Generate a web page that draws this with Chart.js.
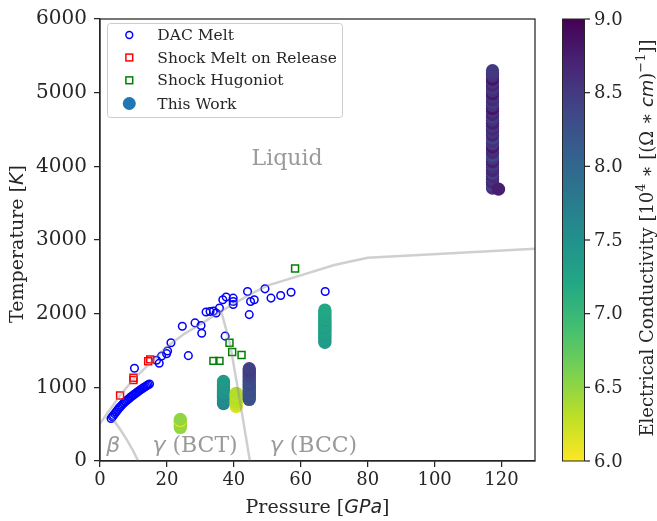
<!DOCTYPE html>
<html><head><meta charset="utf-8">
<script src="https://cdn.jsdelivr.net/npm/chart.js@4.4.1/dist/chart.umd.min.js"></script>
<style>html,body{margin:0;padding:0;background:#fff;}#wrap{width:657px;height:521px;position:relative;}</style>
</head><body><div id="wrap"><canvas id="c" width="657" height="521"></canvas></div>
<script>
// ---------- data ----------
const dacP = [3.3,3.7,4.0,4.4,4.8,5.2,5.6,6.0,6.4,6.8,7.2,7.6,8.0,8.4,8.8,9.2,9.6,10.0,10.4,10.8,11.2,11.6,12.0,12.4,12.8,13.2,13.6,14.0,14.4,14.8,
  10.3,16.9,17.7,18.4,19.9,20.2,21.2,24.6,26.4,28.4,30.2,30.4,31.7,32.9,33.9,34.7,35.7,36.7,37.7,37.4,39.8,39.8,39.8,44.1,44.6,45.0,46.1,49.3,51.1,54.0,57.1,67.3];
const dacT = [578,600,618,642,665,690,712,732,752,772,790,806,822,838,853,868,882,896,910,924,937,950,963,976,988,1000,1012,1023,1034,1044,
  1260,1368,1327,1426,1457,1493,1605,1830,1430,1875,1839,1735,2022,2030,2035,2009,2076,2189,2225,1695,2211,2166,2125,2300,1987,2166,2189,2337,2211,2247,2291,2300];
const releaseP = [6.0,10.0,10.0,14.4,15.0];
const releaseT = [888,1100,1130,1355,1380];
const hugoniotP = [58.3,33.9,35.7,38.7,39.5,42.3];
const hugoniotT = [2614,1359,1359,1605,1480,1440];

const workP = [
  24.0,24.0,24.0,24.0,24.0,24.0,24.0,
  36.9,36.9,36.9,36.9,36.9,36.9,36.9,36.9,36.9,36.9,36.9,36.9,36.9,36.9,36.9,36.9,
  40.7,40.7,40.7,40.7,40.7,40.7,40.7,40.7,40.7,40.7,
  44.6,44.6,44.6,44.6,44.6,44.6,44.6,44.6,44.6,44.6,44.6,44.6,44.6,44.6,44.6,44.6,44.6,44.6,44.6,44.6,44.6,44.6,
  67.2,67.2,67.2,67.2,67.2,67.2,67.2,67.2,67.2,67.2,67.2,67.2,67.2,67.2,67.2,67.2,67.2,67.2,67.2,67.2,67.2,67.2,67.2,
  117.3,117.3,117.3,117.3,117.3,117.3,117.3,117.3,117.3,117.3,117.3,117.3,117.3,117.3,117.3,117.3,117.3,117.3,117.3,117.3,
  117.3,117.3,117.3,117.3,117.3,117.3,117.3,117.3,117.3,117.3,117.3,117.3,117.3,117.3,117.3,117.3,117.3,117.3,117.3,117.3,117.3,
  119.1];
const workT = [
  455,475,495,515,535,550,565,
  780,800,820,840,860,880,900,920,940,960,980,1000,1020,1040,1060,1080,
  740,760,780,800,820,840,860,880,900,920,
  835,855,875,895,915,935,955,975,995,1015,1035,1055,1075,1095,1115,1135,1155,1175,1195,1215,1235,1255,
  1610,1630,1650,1670,1690,1710,1730,1750,1770,1790,1810,1830,1850,1870,1890,1910,1930,1950,1970,1990,2010,2030,2050,
  3705,3745,3785,3825,3865,3905,3945,3985,4025,4065,4105,4145,4185,4225,4265,4305,4345,4385,4425,4465,
  4505,4545,4585,4625,4665,4705,4745,4785,4825,4865,4905,4945,4985,5025,5065,5105,5145,5185,5225,5265,5300,
  3690];
const workSigma = [
  6.5,6.5,6.45,6.5,6.45,6.1,6.5,
  7.6,7.65,7.55,7.6,7.5,7.6,7.55,7.5,7.45,7.5,7.45,7.4,7.45,7.4,7.45,7.4,
  6.15,6.2,6.25,6.3,6.3,6.3,6.35,6.3,6.3,6.35,
  8.25,8.2,8.3,8.25,8.2,8.3,8.25,8.3,8.2,8.25,8.3,8.35,8.3,8.25,8.35,8.3,8.4,8.35,8.45,8.4,8.5,8.45,
  7.4,7.35,7.4,7.3,7.35,7.4,7.3,7.35,7.25,7.3,7.35,7.3,7.25,7.3,7.25,7.35,7.25,7.2,7.3,7.25,7.2,7.25,7.2,
  8.6,8.4,8.7,8.55,8.65,8.45,8.7,8.6,8.5,8.75,8.55,8.35,8.65,8.6,8.8,8.5,8.6,8.4,8.7,8.55,
  8.65,8.5,8.75,8.6,8.45,8.7,8.55,8.85,8.6,8.5,8.65,8.55,8.8,8.6,8.5,8.7,8.55,8.85,8.6,8.55,8.5,
  8.75];

const meltP = [0,3,6,10,15,20,25,30,35,40,45,50,60,70,80,130];
const meltT = [507,700,890,1110,1330,1550,1720,1855,2000,2135,2265,2380,2520,2660,2760,2880];
const betaP = [3.5,6,8,10,11.4];
const betaT = [590,430,290,130,0];
const bccP = [36.2,38.9,41.8,44.8];
const bccT = [2040,1580,820,0];

const xTicks = [0,20,40,60,80,100,120];
const yTicks = [0,1000,2000,3000,4000,5000,6000];
const cbTicks = [6.0,6.5,7.0,7.5,8.0,8.5,9.0];
const sigmaMin = 6.0, sigmaMax = 9.0;
const legendLabels = ['DAC Melt','Shock Melt on Release','Shock Hugoniot','This Work'];

// ---------- styling / helpers ----------
const SERIF = "'DejaVu Serif', serif";
const MATH = "'DejaVu Sans', sans-serif";
const INK = '#262626';
const VIR = ['#440154','#482475','#414487','#355f8d','#2a788e','#21918c','#22a884','#44bf70','#7ad151','#bddf26','#fde725'];
function hex2rgb(h){return [parseInt(h.slice(1,3),16),parseInt(h.slice(3,5),16),parseInt(h.slice(5,7),16)];}
function viridis(t){
  t = Math.min(1, Math.max(0, t));
  const f = t*10, i = Math.min(9, Math.floor(f)), u = f - i;
  const a = hex2rgb(VIR[i]), b = hex2rgb(VIR[i+1]);
  return 'rgb(' + a.map((v,k)=>Math.round(v + (b[k]-v)*u)).join(',') + ')';
}
function sigmaColor(s){ return viridis((sigmaMax - s)/(sigmaMax - sigmaMin)); }
function pts(xs, ys){ return xs.map((x,i)=>({x:x, y:ys[i]})); }

function drawSegs(ctx, x, y, segs, align){
  let w = 0;
  segs.forEach(s=>{ ctx.font = s.font; s.w = ctx.measureText(s.t).width; w += s.w; });
  let cx = align === 'center' ? x - w/2 : (align === 'right' ? x - w : x);
  ctx.textAlign = 'left';
  segs.forEach(s=>{ ctx.font = s.font; ctx.fillText(s.t, cx, y + (s.dy||0)); cx += s.w; });
}

const phaseLabels = [
  {x:55.9, y:4100, segs:[{t:'Liquid', font:'22px '+SERIF}]},
  {x:4.0, y:200, segs:[{t:'β', font:'italic 22px '+MATH}]},
  {x:28.4, y:200, segs:[{t:'γ', font:'italic 22px '+MATH},{t:' (BCT)', font:'22px '+SERIF}]},
  {x:63.8, y:200, segs:[{t:'γ', font:'italic 22px '+MATH},{t:' (BCC)', font:'22px '+SERIF}]}
];

const overlay = {
  id:'overlay',
  afterDraw(chart){
    const ctx = chart.ctx, ca = chart.chartArea, xs = chart.scales.x, ys = chart.scales.y;
    ctx.save();
    // frame
    ctx.strokeStyle = INK; ctx.lineWidth = 1.25;
    ctx.strokeRect(ca.left, ca.top, ca.right - ca.left, ca.bottom - ca.top);
    // phase labels
    ctx.fillStyle = '#9a9a9a'; ctx.textBaseline = 'middle';
    phaseLabels.forEach(l=>drawSegs(ctx, xs.getPixelForValue(l.x), ys.getPixelForValue(l.y), l.segs, 'center'));
    // legend
    const lx = 107.5, ly = 23.5, lw = 235, lh = 94;
    ctx.beginPath(); ctx.roundRect(lx, ly, lw, lh, 3);
    ctx.fillStyle = 'rgba(255,255,255,0.8)'; ctx.fill();
    ctx.strokeStyle = '#cccccc'; ctx.lineWidth = 1; ctx.stroke();
    const rows = [35, 57.5, 80.3, 103.5], mx = 129.3;
    ctx.lineWidth = 1.5;
    ctx.strokeStyle = '#0000ff'; ctx.beginPath(); ctx.arc(mx, rows[0], 3.4, 0, 2*Math.PI); ctx.stroke();
    ctx.strokeStyle = '#ff0000'; ctx.strokeRect(mx-3.4, rows[1]-3.4, 6.8, 6.8);
    ctx.strokeStyle = '#008000'; ctx.strokeRect(mx-3.4, rows[2]-3.4, 6.8, 6.8);
    ctx.fillStyle = '#1f77b4'; ctx.beginPath(); ctx.arc(mx, rows[3], 6.5, 0, 2*Math.PI); ctx.fill();
    ctx.fillStyle = INK; ctx.font = '15.5px '+SERIF; ctx.textAlign = 'left'; ctx.textBaseline = 'middle';
    legendLabels.forEach((t,i)=>ctx.fillText(t, 157.3, rows[i]+1));
    // axis titles
    ctx.fillStyle = INK; ctx.textBaseline = 'middle';
    drawSegs(ctx, (ca.left+ca.right)/2, 508, [{t:'Pressure [', font:'19px '+SERIF},{t:'GPa', font:'italic 19px '+MATH},{t:']', font:'19px '+SERIF}], 'center');
    ctx.save(); ctx.translate(18, (ca.top+ca.bottom)/2 + 4); ctx.rotate(-Math.PI/2);
    drawSegs(ctx, 0, 0, [{t:'Temperature [', font:'19px '+SERIF},{t:'K', font:'italic 19px '+MATH},{t:']', font:'19px '+SERIF}], 'center');
    ctx.restore();
    // colorbar
    const cbL = 562, cbR = 585, cbT = ca.top, cbB = ca.bottom;
    const g = ctx.createLinearGradient(0, cbB, 0, cbT);
    for (let k = 0; k <= 10; k++){ g.addColorStop(k/10, sigmaColor(sigmaMin + (sigmaMax-sigmaMin)*k/10)); }
    ctx.fillStyle = g; ctx.fillRect(cbL, cbT, cbR-cbL, cbB-cbT);
    ctx.strokeStyle = INK; ctx.lineWidth = 1; ctx.strokeRect(cbL+0.5, cbT, cbR-cbL-1, cbB-cbT);
    const cbY = v => cbB - (v - sigmaMin)/(sigmaMax - sigmaMin)*(cbB - cbT);
    ctx.lineWidth = 1.25; ctx.fillStyle = INK; ctx.font = '18px '+SERIF; ctx.textAlign = 'left'; ctx.textBaseline = 'middle';
    cbTicks.forEach(v=>{
      const y = cbY(v);
      ctx.beginPath(); ctx.moveTo(cbR, y); ctx.lineTo(cbR+5, y); ctx.stroke();
      ctx.fillText(v.toFixed(1), cbR+9, y+1);
    });
    ctx.save(); ctx.translate(648, (ca.top+ca.bottom)/2 - 2); ctx.rotate(-Math.PI/2);
    drawSegs(ctx, 0, 0, [
      {t:'Electrical Conductivity [10', font:'18px '+SERIF},
      {t:'4', font:'13px '+SERIF, dy:-6},
      {t:' ∗ [(Ω ∗ ', font:'18px '+SERIF},
      {t:'cm', font:'italic 18px '+MATH},
      {t:')', font:'18px '+SERIF},
      {t:'−1', font:'13px '+SERIF, dy:-6},
      {t:']]', font:'18px '+SERIF}], 'center');
    ctx.restore();
    ctx.restore();
  }
};

const lineStyle = {showLine:true, pointRadius:0, borderColor:'rgba(140,140,140,0.42)', borderWidth:2.5, tension:0, fill:false};

new Chart(document.getElementById('c'), {
  type:'scatter',
  data:{datasets:[
    Object.assign({label:'melt', data:pts(meltP, meltT), order:0}, lineStyle),
    Object.assign({label:'beta-gamma', data:pts(betaP, betaT), order:0}, lineStyle),
    Object.assign({label:'bct-bcc', data:pts(bccP, bccT), order:0}, lineStyle),
    {label:legendLabels[3], data:workP.map((p,i)=>({x:p, y:workT[i], s:workSigma[i]})), order:1,
      pointRadius:6.6, borderWidth:0, pointBorderWidth:0,
      backgroundColor: c => sigmaColor(c.raw ? c.raw.s : 8), pointBackgroundColor: c => sigmaColor(c.raw ? c.raw.s : 8)},
    {label:legendLabels[2], data:pts(hugoniotP, hugoniotT), order:2, pointStyle:'rect', pointRadius:4.9,
      borderColor:'#008000', pointBorderColor:'#008000', pointBorderWidth:1.5, backgroundColor:'rgba(0,0,0,0)', pointBackgroundColor:'rgba(0,0,0,0)'},
    {label:legendLabels[1], data:pts(releaseP, releaseT), order:3, pointStyle:'rect', pointRadius:4.9,
      borderColor:'#ff0000', pointBorderColor:'#ff0000', pointBorderWidth:1.5, backgroundColor:'rgba(0,0,0,0)', pointBackgroundColor:'rgba(0,0,0,0)'},
    {label:legendLabels[0], data:pts(dacP, dacT), order:4, pointStyle:'circle', pointRadius:3.8,
      borderColor:'#0000ff', pointBorderColor:'#0000ff', pointBorderWidth:1.5, backgroundColor:'rgba(0,0,0,0)', pointBackgroundColor:'rgba(0,0,0,0)'}
  ]},
  options:{
    responsive:false, animation:false, events:[],
    layout:{padding:{left:0, right:122, top:15, bottom:0}},
    plugins:{legend:{display:false}, tooltip:{enabled:false}},
    scales:{
      x:{type:'linear', min:0, max:130,
        afterBuildTicks: s => { s.ticks = xTicks.map(v=>({value:v})); },
        afterFit: s => { s.height = 60; },
        grid:{drawOnChartArea:false, drawTicks:true, tickLength:6, color:INK, lineWidth:1.25},
        border:{display:true, color:INK, width:1.25},
        ticks:{color:INK, font:{family:SERIF, size:18}, padding:3, maxRotation:0, autoSkip:false, callback: v => String(v)}},
      y:{type:'linear', min:0, max:6000,
        afterBuildTicks: s => { s.ticks = yTicks.map(v=>({value:v})); },
        afterFit: s => { s.width = 100; },
        grid:{drawOnChartArea:false, drawTicks:true, tickLength:6, color:INK, lineWidth:1.25},
        border:{display:true, color:INK, width:1.25},
        ticks:{color:INK, font:{family:SERIF, size:20}, padding:7, autoSkip:false, callback: v => String(v)}}
    }
  },
  plugins:[overlay]
});
</script></body></html>
